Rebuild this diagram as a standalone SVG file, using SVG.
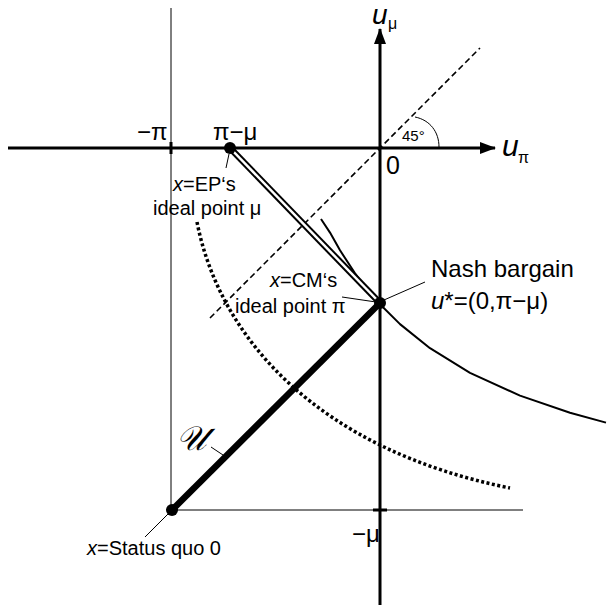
<svg xmlns="http://www.w3.org/2000/svg" width="608" height="608" viewBox="0 0 608 608">
<style>
text{font-family:"Liberation Sans",Arial,sans-serif;fill:#000}
.lbl{font-size:20px}
.sym{font-size:24px}
.it{font-style:italic}
.thin{stroke:#000;stroke-width:1;fill:none}
.axis{stroke:#000;stroke-width:3;fill:none}
.lead{stroke:#000;stroke-width:1;fill:none}
.dot{fill:#000}
</style>
<defs>
<marker id="arr" viewBox="0 0 16 12" refX="15" refY="6" markerWidth="16" markerHeight="12" markerUnits="userSpaceOnUse" orient="auto">
<path d="M0,0 L16,6 L0,12 Z" fill="#000"/>
</marker>
</defs>
<g id="frame">
<line class="thin" x1="171" y1="8" x2="171" y2="510"/>
<line class="thin" x1="171" y1="510" x2="523" y2="510"/>
</g>
<g id="axes">
<line class="axis" x1="8" y1="148" x2="495" y2="148" marker-end="url(#arr)"/>
<line class="axis" x1="380" y1="605" x2="380" y2="29" marker-end="url(#arr)"/>
<line class="axis" x1="171" y1="142" x2="171" y2="154"/>
<line class="axis" x1="373" y1="510" x2="387" y2="510"/>
<text x="372" y="24" style="font-size:28px" class="it">u</text>
<text x="388" y="29" style="font-size:16px">μ</text>
<text x="502" y="156" style="font-size:30px" class="it">u</text>
<text x="518" y="163" style="font-size:16px">π</text>
<text x="386" y="174" style="font-size:25px">0</text>
<text x="137" y="140" class="sym">−π</text>
<text x="213" y="140" class="sym">π−μ</text>
<text x="352" y="542" class="sym">−μ</text>
</g>
<g id="diagonal">
<line x1="210" y1="318" x2="480" y2="48" stroke="#000" stroke-width="1.6" stroke-dasharray="6 3.5"/>
<path d="M439,147 C439,132 430,120 415,117" class="thin"/>
<text x="402" y="141" style="font-size:15px">45°</text>
</g>
<g id="connectors">
<path d="M197,222 C220,340 320,450 510,488" fill="none" stroke="#000" stroke-width="3.5" stroke-dasharray="3 2.5"/>
<path d="M321,219 L330,232.6 L340,250.3 L355,273.3 L367,289.9 L380,304.2 L400,324.1 L430,348.2 L470,372.8 L520,395.6 L570,412.7 L606,422.6" fill="none" stroke="#000" stroke-width="2" stroke-linejoin="round"/>
<line x1="230" y1="148" x2="380" y2="303" stroke="#000" stroke-width="6.5"/>
<line x1="230" y1="148" x2="380" y2="303" stroke="#fff" stroke-width="2.5"/>
<line x1="172" y1="510" x2="380" y2="303" stroke="#000" stroke-width="6.5"/>
</g>
<g id="U">
<text x="176" y="450" style="font-family:'DejaVu Serif','DejaVu Sans',serif;font-size:34px;font-style:italic">𝒰</text>
<line class="lead" x1="211" y1="447" x2="223" y2="455"/>
</g>
<g id="ep">
<circle class="dot" cx="230" cy="148" r="6"/>
<line class="lead" x1="229" y1="154" x2="226" y2="168"/>
<text x="173" y="191" class="lbl"><tspan class="it">x</tspan>=EP‘s</text>
<text x="153" y="215" class="lbl">ideal point μ</text>
</g>
<g id="nash">
<circle class="dot" cx="380" cy="303" r="6"/>
<line class="lead" x1="342" y1="297" x2="376" y2="302"/>
<line class="lead" x1="384" y1="300" x2="425" y2="282"/>
<text x="270" y="287" class="lbl"><tspan class="it">x</tspan>=CM‘s</text>
<text x="235" y="313" class="lbl">ideal point π</text>
<text x="431" y="277" style="font-size:24px">Nash bargain</text>
<text x="431" y="309" style="font-size:24px"><tspan class="it">u</tspan>*=(0,π−μ)</text>
</g>
<g id="sq">
<circle class="dot" cx="172" cy="510" r="6"/>
<line class="lead" x1="168" y1="514" x2="145" y2="537"/>
<text x="87" y="555" class="lbl"><tspan class="it">x</tspan>=Status quo 0</text>
</g>
</svg>
